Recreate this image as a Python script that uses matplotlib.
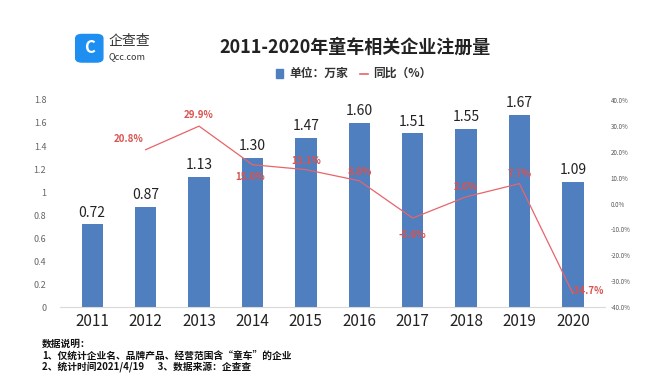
import matplotlib.pyplot as plt
from matplotlib.patches import FancyBboxPatch, Rectangle
from matplotlib.lines import Line2D
from matplotlib.ticker import FuncFormatter

plt.rcParams['font.family'] = ['Noto Sans CJK SC', 'DejaVu Sans']

# data
years = ['2011', '2012', '2013', '2014', '2015', '2016', '2017', '2018', '2019', '2020']
counts = [0.72, 0.87, 1.13, 1.30, 1.47, 1.60, 1.51, 1.55, 1.67, 1.09]
growth = [None, 20.8, 29.9, 15.0, 13.1, 8.8, -5.6, 2.6, 7.7, -34.7]
left_ticks = [0, 0.2, 0.4, 0.6, 0.8, 1, 1.2, 1.4, 1.6, 1.8]
right_ticks = [-40, -30, -20, -10, 0, 10, 20, 30, 40]

bar_color = '#4f7fbf'
line_color = '#e8646a'
label_red = '#d9534f'

fig = plt.figure(figsize=(6.47, 3.83), dpi=100)
ax = fig.add_axes([0.093, 0.198, 0.842, 0.541])

x = list(range(len(years)))
ax.bar(x, counts, width=0.4, color=bar_color, zorder=2)
for xi, v in zip(x, counts):
    ax.text(xi, v + 0.04, f'{v:.2f}', ha='center', va='bottom', fontsize=10, color='#222222')

ax.set_ylim(0, 1.8)
ax.set_yticks(left_ticks)
ax.set_yticklabels(['0', '0.2', '0.4', '0.6', '0.8', '1', '1.2', '1.4', '1.6', '1.8'])
ax.tick_params(axis='y', labelsize=6.5, colors='#666666', length=0, pad=10)
ax.set_xlim(-0.6, 9.6)
ax.set_xticks(x)
ax.set_xticklabels(years, fontsize=11, color='#222222')
ax.tick_params(axis='x', length=0, pad=4)
for s in ['top', 'right', 'left']:
    ax.spines[s].set_visible(False)
ax.spines['bottom'].set_color('#d9d9d9')

ax2 = ax.twinx()
gx = [xi for xi, g in zip(x, growth) if g is not None]
gy = [g for g in growth if g is not None]
ax2.plot(gx, gy, color=line_color, lw=0.9, zorder=3)
ax2.set_ylim(-40, 40)
ax2.set_yticks(right_ticks)
ax2.yaxis.set_major_formatter(FuncFormatter(lambda v, p: f'{v:.1f}%'))
ax2.tick_params(axis='y', labelsize=4.5, colors='#555555', length=0, pad=4)
for s in ax2.spines.values():
    s.set_visible(False)

# growth label offsets (points)
offsets = {1: (-12, 8), 2: (0, 8), 3: (-2, -9), 4: (0, 6), 5: (0, 6),
           6: (0, -12), 7: (0, 7), 8: (0, 7), 9: (10, 2)}
for xi, g in zip(gx, gy):
    dx, dy = offsets[xi]
    ax2.annotate(f'{g:.1f}%', (xi, g), xytext=(dx, dy), textcoords='offset points',
                 ha='center', va='center', fontsize=7, color=label_red, fontweight='bold')

# title and legend
fig.text(0.548, 0.877, '2011-2020年童车相关企业注册量', ha='center', va='center',
         fontsize=13, fontweight='bold', color='#222222')
fig.patches.append(Rectangle((0.426, 0.797), 0.012, 0.022, transform=fig.transFigure,
                             color=bar_color, figure=fig))
fig.text(0.447, 0.808, '单位：万家', ha='left', va='center', fontsize=8.5,
         fontweight='bold', color='#333333')
fig.lines.append(Line2D([0.556, 0.569], [0.808, 0.808], transform=fig.transFigure,
                        color=line_color, lw=1.2))
fig.text(0.576, 0.808, '同比（%）', ha='left', va='center', fontsize=8.5,
         fontweight='bold', color='#333333')

# logo
fig.patches.append(FancyBboxPatch((0.117, 0.838), 0.042, 0.072, boxstyle='round,pad=0,rounding_size=0.01',
                                  transform=fig.transFigure, color='#1e8ff0', figure=fig))
fig.text(0.138, 0.874, 'C', ha='center', va='center', fontsize=12, fontweight='bold', color='white')
fig.text(0.167, 0.893, '企查查', ha='left', va='center', fontsize=10, color='#333333')
fig.text(0.167, 0.852, 'Qcc.com', ha='left', va='center', fontsize=6.5, color='#333333')

# footnote
fig.text(0.065, 0.102, '数据说明：', ha='left', va='center', fontsize=7, fontweight='bold', color='#111111')
fig.text(0.065, 0.072, '1、仅统计企业名、品牌产品、经营范围含“童车”的企业', ha='left', va='center',
         fontsize=7, fontweight='bold', color='#111111')
fig.text(0.065, 0.042, '2、统计时间2021/4/19      3、数据来源：企查查', ha='left', va='center',
         fontsize=7, fontweight='bold', color='#111111')

fig.savefig('out.png', dpi=100)
